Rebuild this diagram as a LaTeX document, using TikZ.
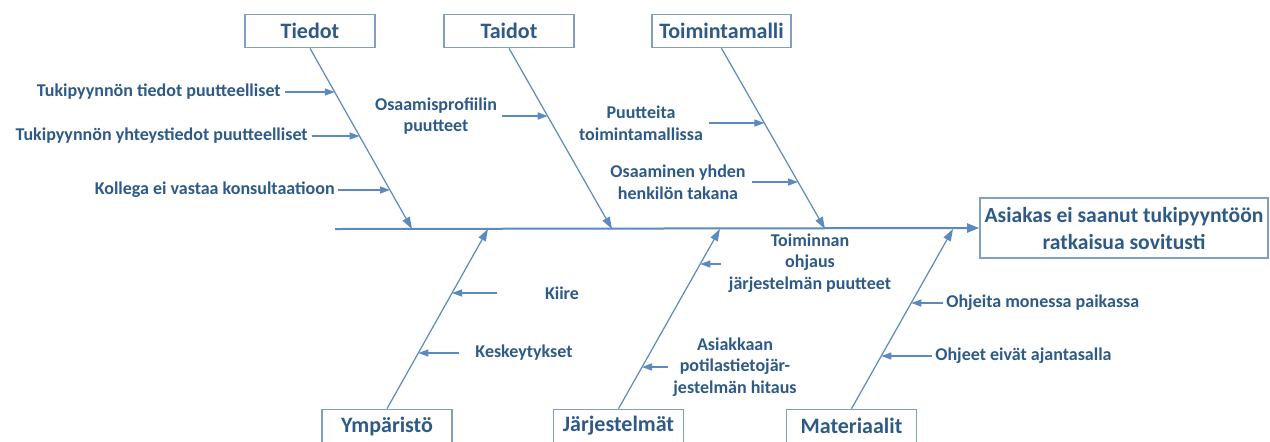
\documentclass[tikz,border=0pt]{standalone}
\usepackage{fontspec}
\setmainfont{Carlito}
\usepackage{tikz}
\usetikzlibrary{arrows.meta,positioning,calc}
\definecolor{txtblue}{HTML}{2E5A88}
\definecolor{lineblue}{HTML}{5A8AC0}
\definecolor{boxblue}{HTML}{7FA0C4}
\tikzset{
	catbox/.style={draw=boxblue, line width=0.8pt, fill=white, text=txtblue,
		font=\fontsize{11}{12}\selectfont\bfseries, minimum width=65pt, minimum height=16.5pt, inner sep=0pt},
	effectbox/.style={draw=boxblue, line width=0.8pt, text=txtblue, align=center,
		font=\fontsize{10.8}{13.5}\selectfont\bfseries, minimum width=144pt, minimum height=30pt, inner sep=0pt},
	cause/.style={text=txtblue, align=center, inner sep=0pt,
		font=\fontsize{9}{10.8}\selectfont\bfseries},
	bone/.style={draw=lineblue, line width=0.6pt, -{Triangle[length=6pt,width=4pt]}},
	twig/.style={draw=lineblue, line width=0.7pt, -{Triangle[length=5pt,width=3.5pt]}},
	spine/.style={draw=lineblue, line width=1pt, -{Triangle[length=6pt,width=4.5pt]}}
}
\begin{document}
\begin{tikzpicture}[x=0.5pt,y=-0.5pt]
	\useasboundingbox (0,0) rectangle (1270,441);
	\fill[white] (0,0) rectangle (1270,441);

	\node [catbox] (Tiedot) at (310,31) {Tiedot};
	\node [catbox] (Taidot) at (509,31) {Taidot};
	\node [catbox, minimum width=69.5pt] (Malli) at (721.5,31) {Toimintamalli};
	\node [catbox] (Ymparisto) at (387,426) {Ympäristö};
	\node [catbox] (Jarj) at (618.5,426) {Järjestelmät};
	\node [catbox] (Mat) at (851.5,426) {Materiaalit};
	\node [effectbox] (Effect) at (1124,228) {Asiakas ei saanut tukipyyntöön\\ratkaisua sovitusti};

	\coordinate (S) at (335,229);
	\coordinate (e1) at (412,229);
	\coordinate (e2) at (612,229);
	\coordinate (e3) at (825,229);
	\coordinate (e4) at (488,229);
	\coordinate (e5) at (720,229);
	\coordinate (e6) at (953,229);

	\draw [spine] (S) -- (Effect.west);
	\draw [bone] (Tiedot.south) -- (e1);
	\draw [bone] (Taidot.south) -- (e2);
	\draw [bone] (Malli.south) -- (e3);
	\draw [bone] (Ymparisto.north) -- (e4);
	\draw [bone] (Jarj.north) -- (e5);
	\draw [bone] (Mat.north) -- (e6);

	\node [cause, anchor=east] (c1) at (281,92) {Tukipyynnön tiedot puutteelliset};
	\node [cause, anchor=east] (c2) at (308,136) {Tukipyynnön yhteystiedot puutteelliset};
	\node [cause, anchor=east] (c3) at (335,190) {Kollega ei vastaa konsultaatioon};
	\node [cause] (c4) at (436,116) {Osaamisprofiilin\\puutteet};
	\node [cause] (c5) at (641,123) {Puutteita\\toimintamallissa};
	\node [cause] (c6) at (678,182) {Osaaminen yhden\\henkilön takana};
	\node [cause] (c7) at (562,293) {Kiire};
	\node [cause] (c8) at (524,353) {Keskeytykset};
	\node [cause] (c9) at (810,263) {Toiminnan\\ohjaus\\järjestelmän puutteet};
	\node [cause] (c10) at (735,367) {Asiakkaan\\potilastietojär-\\jestelmän hitaus};
	\node [cause, anchor=west] (c11) at (946,303) {Ohjeita monessa paikassa};
	\node [cause, anchor=west] (c12) at (935,356) {Ohjeet eivät ajantasalla};

	\coordinate (a1) at (285,92);   \coordinate (b1) at (334.8,92);
	\coordinate (a2) at (312,136);  \coordinate (b2) at (359.6,136);
	\coordinate (a3) at (338,190);  \coordinate (b3) at (390,190);
	\coordinate (a4) at (502,116);  \coordinate (b4) at (547.7,116);
	\coordinate (a5) at (709,123);  \coordinate (b5) at (764.4,123);
	\coordinate (a6) at (752,182);  \coordinate (b6) at (798,182);
	\coordinate (a7) at (497,293);  \coordinate (b7) at (452,293);
	\coordinate (a8) at (459,353);  \coordinate (b8) at (418.4,353);
	\coordinate (a9) at (721,264);  \coordinate (b9) at (700.3,264);
	\coordinate (a10) at (668,367); \coordinate (b10) at (642,367);
	\coordinate (a11) at (943,303); \coordinate (b11) at (911.3,303);
	\coordinate (a12) at (932,356); \coordinate (b12) at (881.4,356);

	\foreach \i in {1,...,12}{
		\draw [twig] (a\i) -- (b\i);
	}
\end{tikzpicture}
\end{document}
